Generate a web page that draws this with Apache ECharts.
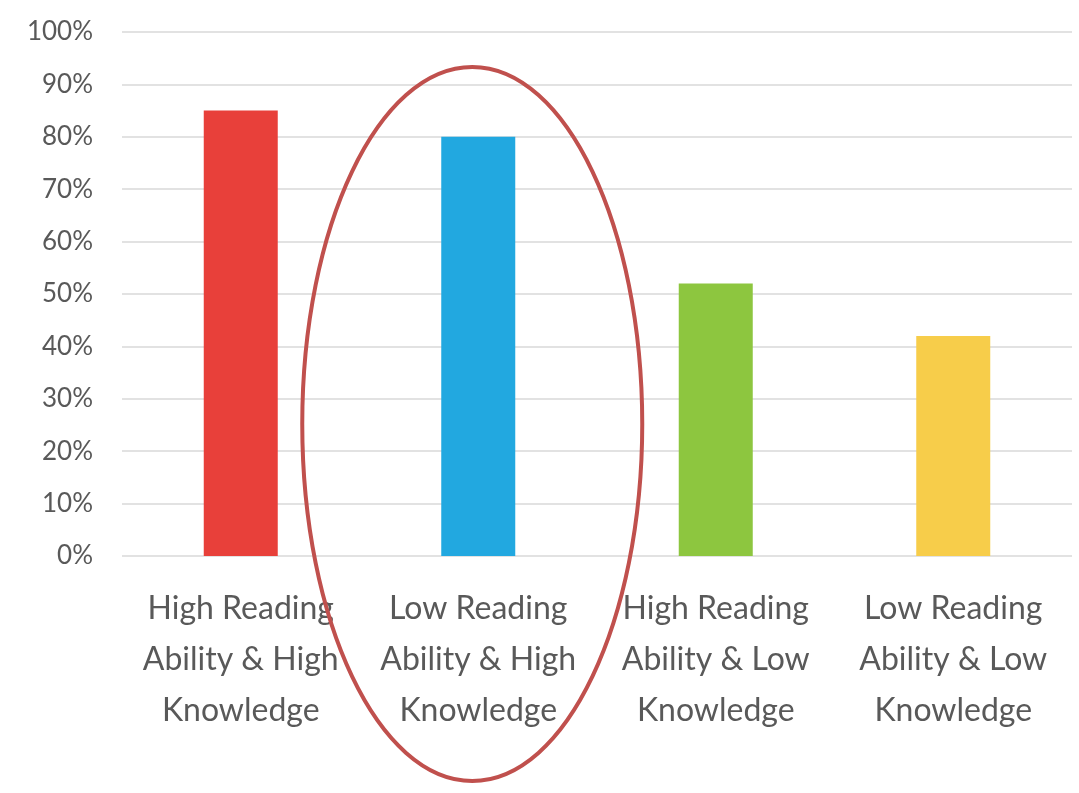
<!DOCTYPE html>
<html>
<head>
<meta charset="utf-8">
<script src="https://cdn.jsdelivr.net/npm/echarts@6/dist/echarts.min.js"></script>
<style>
  html, body { margin: 0; padding: 0; background: #fff; }
  #main { width: 1079px; height: 793px; }
</style>
</head>
<body>
<div id="main"></div>
<script>
var categories = [
  'High Reading\nAbility & High\nKnowledge',
  'Low Reading\nAbility & High\nKnowledge',
  'High Reading\nAbility & Low\nKnowledge',
  'Low Reading\nAbility & Low\nKnowledge'
]
var values = [85, 80, 52, 42]
var barColors = ['#E8403A', '#22A8E0', '#8DC63F', '#F7CD4A']

var myChart = echarts.init(document.getElementById('main'))
var options = {
  animation: false,
  grid: { left: 122, right: 7, top: 32, bottom: 237, containLabel: false },
  xAxis: {
    type: 'category',
    data: categories,
    axisTick: { show: false },
    axisLine: { show: false },
    axisLabel: {
      interval: 0,
      margin: 27,
      color: '#595959',
      fontFamily: 'Lato',
      fontSize: 32,
      lineHeight: 51
    }
  },
  yAxis: {
    type: 'value',
    min: 0,
    max: 100,
    interval: 10,
    axisLine: { show: false },
    axisTick: { show: false },
    axisLabel: {
      formatter: '{value}%',
      color: '#595959',
      fontFamily: 'Lato',
      fontSize: 26,
      margin: 29
    },
    splitLine: { lineStyle: { color: '#D9D9D9', width: 1.5 } }
  },
  series: [{
    type: 'bar',
    barWidth: 74,
    data: values.map(function (v, i) {
      return { value: v, itemStyle: { color: barColors[i] } }
    })
  }]
}
myChart.setOption(options)

// highlight ellipse around the second category
var cx = myChart.convertToPixel({ xAxisIndex: 0 }, categories[1])
myChart.setOption({
  graphic: [{
    type: 'ellipse',
    shape: { cx: cx - 6, cy: 424, rx: 170, ry: 357 },
    style: { fill: 'none', stroke: '#C0504D', lineWidth: 4 },
    z: 100
  }]
})
</script>
</body>
</html>
